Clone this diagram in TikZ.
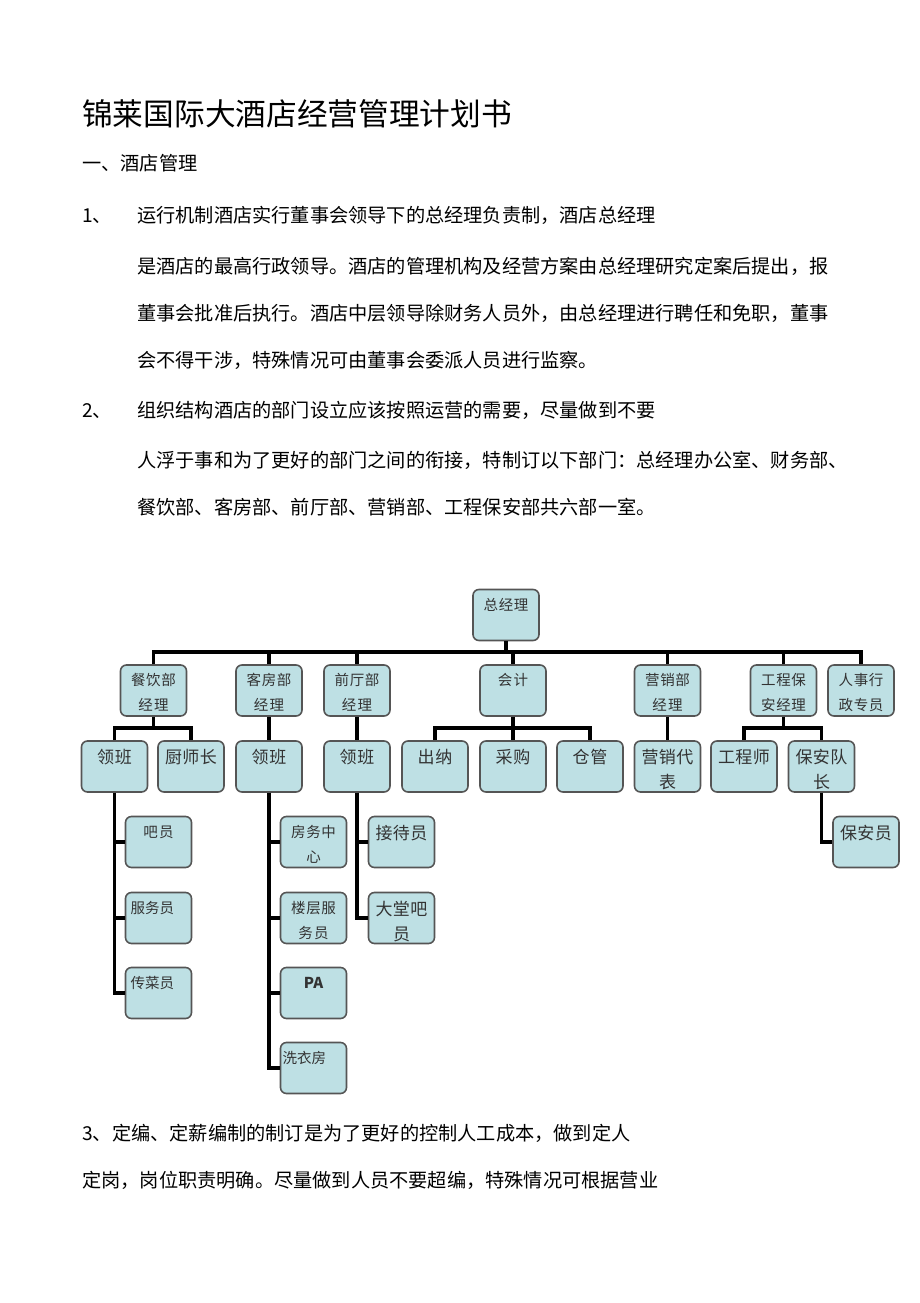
\documentclass[tikz,border=0pt]{standalone}
\usepackage{fontspec}
\setmainfont{Noto Sans CJK SC}
\XeTeXlinebreaklocale "zh"
\XeTeXlinebreakskip=0pt plus 2pt
\definecolor{boxfill}{RGB}{190,224,228}
\definecolor{boxline}{RGB}{85,85,85}

\begin{document}
\begin{tikzpicture}[x=1pt, y=-1pt,
    para/.style={anchor=base west, inner sep=0pt, font=\fontsize{19.2}{19.2}\selectfont},
    box/.style={draw=boxline, fill=boxfill, line width=1.6pt, rounded corners=6pt,
        text width=62pt, inner xsep=2pt, inner ysep=3pt, align=center, text=black!80},
    smallbox/.style={box, font=\fontsize{14.5}{25}\selectfont, text height=17.5pt, text depth=27.5pt},
    bigbox/.style={box, font=\fontsize{17}{25}\selectfont, text height=19.5pt, text depth=25.5pt},
    leftbox/.style={smallbox, align=left, text width=56pt, inner xsep=5pt},
    link/.style={line width=3.4pt}]

    \useasboundingbox (0,0) rectangle (920,1303);

    %% Text above the chart

    \node[para, font=\fontsize{30.7}{30.7}\selectfont] (title) at (82,125) {锦莱国际大酒店经营管理计划书};
    \node[para] (sec) at (82,170) {一、酒店管理};

    % Item 1
    \node[para] (n1) at (82,222) {1、};
    \node[para] (p1a) at (137,222) {运行机制酒店实行董事会领导下的总经理负责制，酒店总经理};
    \node[para] (p1b) at (137,273) {\makebox[693pt][s]{是酒店的最高行政领导。酒店的管理机构及经营方案由总经理研究定案后提出，报}};
    \node[para] (p1c) at (137,320) {\makebox[693pt][s]{董事会批准后执行。酒店中层领导除财务人员外，由总经理进行聘任和免职，董事}};
    \node[para] (p1d) at (137,367) {会不得干涉，特殊情况可由董事会委派人员进行监察。};

    % Item 2
    \node[para] (n2) at (82,417) {2、};
    \node[para] (p2a) at (137,417) {组织结构酒店的部门设立应该按照运营的需要，尽量做到不要};
    \node[para] (p2b) at (137,467) {\makebox[696pt][s]{人浮于事和为了更好的部门之间的衔接，特制订以下部门：总经理办公室、财务部、}};
    \node[para] (p2c) at (137,514) {餐饮部、客房部、前厅部、营销部、工程保安部共六部一室。};

    %% Org chart

    % Top
    \node[smallbox] (zjl) at (506,615) {总经理};

    % Department heads
    \node[smallbox] (cy) at (153.5,690.5) {餐饮部\\经理};
    \node[smallbox] (kf) at (269,690.5) {客房部\\经理};
    \node[smallbox] (qt) at (357,690.5) {前厅部\\经理};
    \node[smallbox] (kj) at (513,690.5) {会计};
    \node[smallbox] (yx) at (667.5,690.5) {营销部\\经理};
    \node[smallbox] (gc) at (783.5,690.5) {工程保\\安经理};
    \node[smallbox] (rs) at (861,690.5) {人事行\\政专员};

    % Third row
    \node[bigbox] (cylb) at (114.5,766.5) {领班};
    \node[bigbox] (cycs) at (191,766.5) {厨师长};
    \node[bigbox] (kflb) at (269,766.5) {领班};
    \node[bigbox] (qtlb) at (357,766.5) {领班};
    \node[bigbox] (cn) at (435,766.5) {出纳};
    \node[bigbox] (caig) at (513,766.5) {采购};
    \node[bigbox] (cangg) at (590,766.5) {仓管};
    \node[bigbox] (yxdb) at (667.5,766.5) {营销代\\表};
    \node[bigbox] (gcs) at (744,766.5) {工程师};
    \node[bigbox] (badz) at (821.5,766.5) {保安队\\长};

    % Staff
    \node[smallbox] (by) at (158.5,842) {吧员};
    \node[leftbox] (fwy) at (158.5,918) {服务员};
    \node[leftbox] (ccy) at (158.5,993) {传菜员};
    \node[smallbox] (fwzx) at (313.5,842) {房务中\\心};
    \node[smallbox] (lcfw) at (313.5,918) {楼层服\\务员};
    \node[smallbox, font=\fontsize{15}{25}\bfseries] (pa) at (313.5,993) {PA};
    \node[leftbox, inner xsep=2pt, text width=62pt] (xyf) at (313.5,1068) {洗衣房};
    \node[bigbox] (jdy) at (401.5,842) {接待员};
    \node[bigbox] (dtby) at (401.5,918) {大堂吧\\员};
    \node[bigbox] (bay) at (866,842) {保安员};

    % Bus lines
    \coordinate (bus) at (0,652);
    \coordinate (sub) at (0,728);
    \draw[link] (zjl.south) -- (zjl.south |- bus);
    \draw[link] (cy.north) -- (cy.north |- bus) -- (rs.north |- bus) -- (rs.north);
    \foreach \n in {kf,qt,kj,yx,gc}
        \draw[link] (\n.north) -- (\n.north |- bus);

    % Heads to third row
    \draw[link] (cy.south) -- (cy.south |- sub);
    \draw[link] (cylb.north) -- (cylb.north |- sub) -- (cycs.north |- sub) -- (cycs.north);
    \draw[link] (kf.south) -- (kflb.north);
    \draw[link] (qt.south) -- (qtlb.north);
    \draw[link] (kj.south) -- (caig.north);
    \draw[link] (cn.north) -- (cn.north |- sub) -- (cangg.north |- sub) -- (cangg.north);
    \draw[link] (yx.south) -- (yxdb.north);
    \draw[link] (gc.south) -- (gc.south |- sub);
    \draw[link] (gcs.north) -- (gcs.north |- sub) -- (badz.north |- sub) -- (badz.north);

    % Third row to staff
    \foreach \n in {by,fwy,ccy}
        \draw[link] (cylb.south) |- (\n.west);
    \foreach \n in {fwzx,lcfw,pa,xyf}
        \draw[link] (kflb.south) |- (\n.west);
    \foreach \n in {jdy,dtby}
        \draw[link] (qtlb.south) |- (\n.west);
    \draw[link] (badz.south) |- (bay.west);

    %% Text below the chart

    \node[para] (p3a) at (82,1140) {3、定编、定薪编制的制订是为了更好的控制人工成本，做到定人};
    \node[para] (p3b) at (82,1187) {定岗，岗位职责明确。尽量做到人员不要超编，特殊情况可根据营业};

\end{tikzpicture}
\end{document}
